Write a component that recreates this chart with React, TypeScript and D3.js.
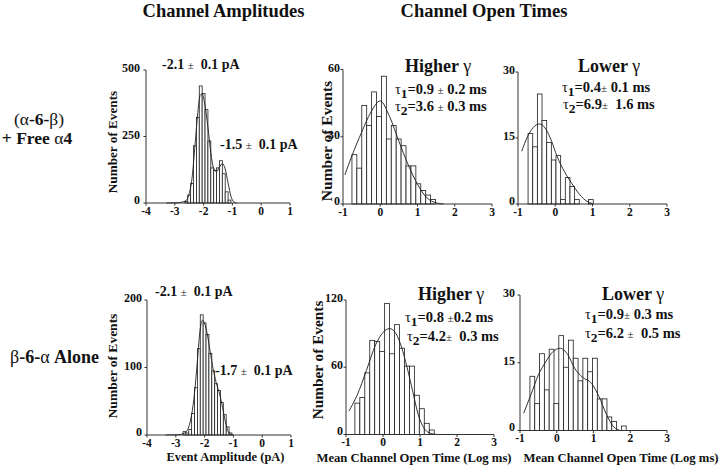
import React from "react";
import * as d3 from "d3";

const FONT = "'Liberation Serif', 'Times New Roman', Times, serif";

// ---------- tick values ----------
const ampXTicks = [-4, -3, -2, -1, 0, 1];
const openXTicks = [-1, 0, 1, 2, 3];

// ---------- (α-6-β) + free α4 : amplitudes ----------
const ampBinWidth = 0.1;
const ampTopBinCenters = [-2.6, -2.5, -2.4, -2.3, -2.2, -2.1, -2.0, -1.9, -1.8, -1.7, -1.6, -1.5, -1.4, -1.3, -1.2, -1.1];
const ampTopCounts = [6, 30, 73, 215, 322, 440, 412, 351, 233, 132, 122, 132, 159, 110, 42, 11];
const ampTopFitX = [-3.3, -2.9, -2.7, -2.6, -2.5, -2.4, -2.3, -2.2, -2.12, -2.05, -1.95, -1.85, -1.75, -1.65, -1.55, -1.45, -1.35, -1.25, -1.15, -1.05, -0.95, -0.85];
const ampTopFitY = [0, 1, 5, 10, 35, 95, 215, 340, 405, 410, 365, 285, 190, 130, 118, 135, 148, 128, 75, 25, 4, 0];
const ampTopYTicks = [0, 250, 500];

// ---------- (α-6-β) + free α4 : open times, higher γ ----------
const openHiTopStart = -0.76;
const openHiTopWidth = 0.132;
const openHiTopCounts = [22, 16, 44, 35, 50, 39, 57, 29, 35, 29, 26, 17, 17, 9, 6, 4, 2];
const openHiTopFitX = [-0.95, -0.75, -0.5, -0.25, 0.0, 0.25, 0.5, 0.75, 1.0, 1.25, 1.5, 1.7];
const openHiTopFitY = [13, 22, 32, 41, 46, 39, 28, 17.5, 8.8, 2.8, 0.5, 0];
const openHiTopYTicks = [0, 30, 60];

// ---------- (α-6-β) + free α4 : open times, lower γ ----------
const openLoTopStart = -0.73;
const openLoTopWidth = 0.125;
const openLoTopCounts = [16, 13, 25, 19, 14, 10, 11, 1, 6, 4, 1, 0, 0, 1];
const openLoTopFitX = [-0.9, -0.75, -0.6, -0.42, -0.25, -0.1, 0.05, 0.25, 0.45, 0.65, 0.85, 1.0];
const openLoTopFitY = [12, 15.2, 17.3, 18.2, 17, 14.3, 10.8, 7.3, 4.6, 2.2, 0.6, 0.1];
const openLoTopYTicks = [0, 15, 30];

// ---------- β-6-α alone : amplitudes ----------
const ampBotBinCenters = [-2.7, -2.6, -2.5, -2.4, -2.3, -2.2, -2.1, -2.0, -1.9, -1.8, -1.7, -1.6, -1.5, -1.4, -1.3, -1.2, -1.1];
const ampBotCounts = [5, 3, 8, 32, 70, 128, 178, 166, 149, 121, 95, 76, 66, 48, 30, 12, 3];
const ampBotFitX = [-3.35, -2.9, -2.7, -2.55, -2.45, -2.35, -2.25, -2.15, -2.07, -2.0, -1.9, -1.8, -1.7, -1.6, -1.5, -1.4, -1.3, -1.2, -1.1, -1.0];
const ampBotFitY = [0, 0.5, 3, 12, 30, 62, 110, 158, 170, 165, 148, 122, 97, 78, 64, 46, 24, 7, 1, 0];
const ampBotYTicks = [0, 100, 200];

// ---------- β-6-α alone : open times, higher γ ----------
const openHiBotStart = -0.76;
const openHiBotWidth = 0.134;
const openHiBotCounts = [28, 33, 55, 84, 83, 74, 117, 72, 98, 77, 61, 61, 35, 23, 10, 4];
const openHiBotFitX = [-0.92, -0.7, -0.45, -0.2, 0.0, 0.18, 0.35, 0.5, 0.65, 0.8, 0.95, 1.1, 1.25, 1.45];
const openHiBotFitY = [21, 35, 57, 80, 91, 94.5, 90, 78, 60, 39, 18, 6, 1.5, 0];
const openHiBotYTicks = [0, 60, 120];

// ---------- β-6-α alone : open times, lower γ ----------
const openLoBotStart = -0.73;
const openLoBotWidth = 0.131;
const openLoBotCounts = [12, 6, 17, 9, 18, 6, 21, 14, 20, 16, 11, 16, 13, 16, 7, 7, 3, 2, 0, 1];
const openLoBotFitX = [-0.9, -0.7, -0.5, -0.3, -0.1, 0.1, 0.3, 0.5, 0.7, 0.95, 1.15, 1.35, 1.55, 1.7];
const openLoBotFitY = [3.8, 8, 12.3, 15.2, 17.5, 18.2, 16.8, 13.6, 11.8, 10.4, 7.5, 3.6, 0.8, 0.1];
const openLoBotYTicks = [0, 15, 30];

type Bar = { x0: number; x1: number; y: number };

function centeredBars(centers: number[], counts: number[], w: number): Bar[] {
  return centers.map((c, i) => ({ x0: c - w / 2, x1: c + w / 2, y: counts[i] }));
}
function edgeBars(start: number, w: number, counts: number[]): Bar[] {
  return counts.map((v, i) => ({ x0: start + i * w, x1: start + (i + 1) * w, y: v }));
}

type PanelProps = {
  xDomain: [number, number];
  xRange: [number, number];
  yDomain: [number, number];
  yRange: [number, number];
  bars: Bar[];
  fitX: number[];
  fitY: number[];
  xTicks: number[];
  yTicks: number[];
  yLabelGap: number;
};

function Panel(p: PanelProps) {
  const x = d3.scaleLinear().domain(p.xDomain).range(p.xRange);
  const y = d3.scaleLinear().domain(p.yDomain).range(p.yRange);
  const pts = d3.zip(p.fitX, p.fitY) as [number, number][];
  const line = d3
    .line<[number, number]>()
    .x((d) => x(d[0]))
    .y((d) => y(d[1]))
    .curve(d3.curveMonotoneX);
  const y0 = y(0);
  const axisX = p.xRange[0];
  return (
    <g>
      {p.bars
        .filter((b) => b.y > 0)
        .map((b, i) => (
          <rect
            key={i}
            x={x(b.x0)}
            y={y(b.y)}
            width={x(b.x1) - x(b.x0)}
            height={y0 - y(b.y)}
            fill="#fff"
            stroke="#1c1c1c"
            strokeWidth={0.8}
          />
        ))}
      <path d={line(pts) || ""} fill="none" stroke="#1c1c1c" strokeWidth={0.9} />
      <line x1={axisX} x2={p.xRange[1]} y1={y0} y2={y0} stroke="#333" strokeWidth={1} />
      <line x1={axisX} x2={axisX} y1={y0} y2={y(p.yDomain[1])} stroke="#333" strokeWidth={1} />
      {p.xTicks.map((t) => (
        <g key={"x" + t}>
          <line x1={x(t)} x2={x(t)} y1={y0} y2={y0 + 2.5} stroke="#333" strokeWidth={1} />
          <text x={x(t)} y={y0 + 11.5} textAnchor="middle" fontSize={11.5} fontWeight="bold" fill="#111">
            {t}
          </text>
        </g>
      ))}
      {p.yTicks.map((t) => (
        <g key={"y" + t}>
          <line x1={axisX - 2.5} x2={axisX} y1={y(t)} y2={y(t)} stroke="#333" strokeWidth={1} />
          <text
            x={axisX - p.yLabelGap}
            y={y(t) + (t === 0 ? 0.5 : 2)}
            textAnchor="end"
            fontSize={12}
            fontWeight="bold"
            fill="#111"
          >
            {t}
          </text>
        </g>
      ))}
    </g>
  );
}

function PmText({ x, y, a, b, gap }: { x: number; y: number; a: string; b: string; gap: string }) {
  return (
    <text x={x} y={y} fontSize={14} fontWeight="bold" fill="#111" style={{ whiteSpace: "pre" }}>
      <tspan>{a + " "}</tspan>
      <tspan fontWeight="normal" fontSize={11}>±</tspan>
      <tspan>{gap + b + " pA"}</tspan>
    </text>
  );
}

function TauText({
  x, y, sub, pre, post,
}: { x: number; y: number; sub: string; pre: string; post: string }) {
  return (
    <text x={x} y={y} fontSize={14.5} fontWeight="bold" fill="#111" style={{ whiteSpace: "pre" }}>
      <tspan fontWeight="normal">τ</tspan>
      <tspan dy={4} fontSize={13.5}>{sub}</tspan>
      <tspan dy={-4}>{pre}</tspan>
      <tspan fontWeight="normal" fontSize={11}>±</tspan>
      <tspan>{post}</tspan>
    </text>
  );
}

function GammaTitle({ x, y, word }: { x: number; y: number; word: string }) {
  return (
    <text x={x} y={y} fontSize={18} fontWeight="bold" fill="#111" style={{ whiteSpace: "pre" }}>
      <tspan>{word + " "}</tspan>
      <tspan fontWeight="normal">γ</tspan>
    </text>
  );
}

function YLabel({ x, y, size }: { x: number; y: number; size: number }) {
  return (
    <text
      transform={`translate(${x},${y}) rotate(-90)`}
      textAnchor="middle"
      fontSize={size}
      fontWeight="bold"
      fill="#111"
    >
      Number of Events
    </text>
  );
}

export default function App() {
  return (
    <svg
      width={720}
      height={471}
      style={{ position: "absolute", left: 0, top: 0, background: "#fff" }}
      fontFamily={FONT}
    >
      <rect x={0} y={0} width={720} height={471} fill="#fff" />

      {/* column titles */}
      <text x={223.5} y={17} textAnchor="middle" fontSize={18.5} fontWeight="bold" fill="#111">
        Channel Amplitudes
      </text>
      <text x={484} y={17} textAnchor="middle" fontSize={18.5} fontWeight="bold" fill="#111">
        Channel Open Times
      </text>

      {/* row labels */}
      <text x={39} y={125} textAnchor="middle" fontSize={17.5} fill="#111">
        <tspan>(α</tspan>
        <tspan fontWeight="bold">-6-</tspan>
        <tspan>β)</tspan>
      </text>
      <text x={37} y={143.5} textAnchor="middle" fontSize={17.5} fill="#111" style={{ whiteSpace: "pre" }}>
        <tspan fontWeight="bold">+ Free </tspan>
        <tspan>α</tspan>
        <tspan fontWeight="bold">4</tspan>
      </text>
      <text x={10} y={363} fontSize={18} fill="#111" style={{ whiteSpace: "pre" }}>
        <tspan>β</tspan>
        <tspan fontWeight="bold">-6-</tspan>
        <tspan>α</tspan>
        <tspan fontWeight="bold"> Alone</tspan>
      </text>

      {/* Panel A */}
      <Panel
        xDomain={[-4, 1]}
        xRange={[146, 290]}
        yDomain={[0, 500]}
        yRange={[203, 70]}
        bars={centeredBars(ampTopBinCenters, ampTopCounts, ampBinWidth)}
        fitX={ampTopFitX}
        fitY={ampTopFitY}
        xTicks={ampXTicks}
        yTicks={ampTopYTicks}
        yLabelGap={6}
      />
      <YLabel x={117} y={142} size={13.2} />
      <PmText x={162} y={69} a="-2.1" gap="  " b="0.1" />
      <PmText x={220} y={149} a="-1.5" gap="  " b="0.1" />

      {/* Panel B */}
      <Panel
        xDomain={[-1, 3]}
        xRange={[343, 492]}
        yDomain={[0, 60]}
        yRange={[204, 69.5]}
        bars={edgeBars(openHiTopStart, openHiTopWidth, openHiTopCounts)}
        fitX={openHiTopFitX}
        fitY={openHiTopFitY}
        xTicks={openXTicks}
        yTicks={openHiTopYTicks}
        yLabelGap={3}
      />
      <YLabel x={331.5} y={141} size={15.5} />
      <GammaTitle x={405} y={72} word="Higher" />
      <TauText x={395} y={93.5} sub="1" pre="=0.9 " post=" 0.2 ms" />
      <TauText x={395} y={111} sub="2" pre="=3.6 " post=" 0.3 ms" />

      {/* Panel C */}
      <Panel
        xDomain={[-1, 3]}
        xRange={[518, 667]}
        yDomain={[0, 30]}
        yRange={[204, 72]}
        bars={edgeBars(openLoTopStart, openLoTopWidth, openLoTopCounts)}
        fitX={openLoTopFitX}
        fitY={openLoTopFitY}
        xTicks={openXTicks}
        yTicks={openLoTopYTicks}
        yLabelGap={3}
      />
      <GammaTitle x={578} y={72} word="Lower" />
      <TauText x={562} y={91.5} sub="1" pre="=0.4" post=" 0.1 ms" />
      <TauText x={563} y={109} sub="2" pre="=6.9" post="  1.6 ms" />

      {/* Panel D */}
      <Panel
        xDomain={[-4, 1]}
        xRange={[147, 291]}
        yDomain={[0, 200]}
        yRange={[435, 300]}
        bars={centeredBars(ampBotBinCenters, ampBotCounts, ampBinWidth)}
        fitX={ampBotFitX}
        fitY={ampBotFitY}
        xTicks={ampXTicks}
        yTicks={ampBotYTicks}
        yLabelGap={5}
      />
      <YLabel x={117} y={366} size={13.5} />
      <PmText x={155} y={296} a="-2.1" gap="  " b="0.1" />
      <PmText x={215} y={374.5} a="-1.7" gap="  " b="0.1" />
      <text x={225.5} y={460.5} textAnchor="middle" fontSize={12.5} fontWeight="bold" fill="#111">
        Event Amplitude (pA)
      </text>

      {/* Panel E */}
      <Panel
        xDomain={[-1, 3]}
        xRange={[346, 494]}
        yDomain={[0, 120]}
        yRange={[434.5, 300]}
        bars={edgeBars(openHiBotStart, openHiBotWidth, openHiBotCounts)}
        fitX={openHiBotFitX}
        fitY={openHiBotFitY}
        xTicks={openXTicks}
        yTicks={openHiBotYTicks}
        yLabelGap={3}
      />
      <YLabel x={323} y={360} size={15.3} />
      <GammaTitle x={418} y={300} word="Higher" />
      <TauText x={405} y={321.5} sub="1" pre="=0.8 " post="0.2 ms" />
      <TauText x={407} y={341} sub="2" pre="=4.2" post="  0.3 ms" />
      <text x={414} y={461.5} textAnchor="middle" fontSize={12.7} fontWeight="bold" fill="#111">
        Mean Channel Open Time (Log ms)
      </text>

      {/* Panel F */}
      <Panel
        xDomain={[-1, 3]}
        xRange={[520, 667]}
        yDomain={[0, 30]}
        yRange={[430.5, 295]}
        bars={edgeBars(openLoBotStart, openLoBotWidth, openLoBotCounts)}
        fitX={openLoBotFitX}
        fitY={openLoBotFitY}
        xTicks={openXTicks}
        yTicks={openLoBotYTicks}
        yLabelGap={5}
      />
      <GammaTitle x={602} y={300} word="Lower" />
      <TauText x={585} y={318.5} sub="1" pre="=0.9" post=" 0.3 ms" />
      <TauText x={585} y={337.5} sub="2" pre="=6.2 " post="  0.5 ms" />
      <text x={621} y={461.5} textAnchor="middle" fontSize={12.7} fontWeight="bold" fill="#111">
        Mean Channel Open Time (Log ms)
      </text>
    </svg>
  );
}
